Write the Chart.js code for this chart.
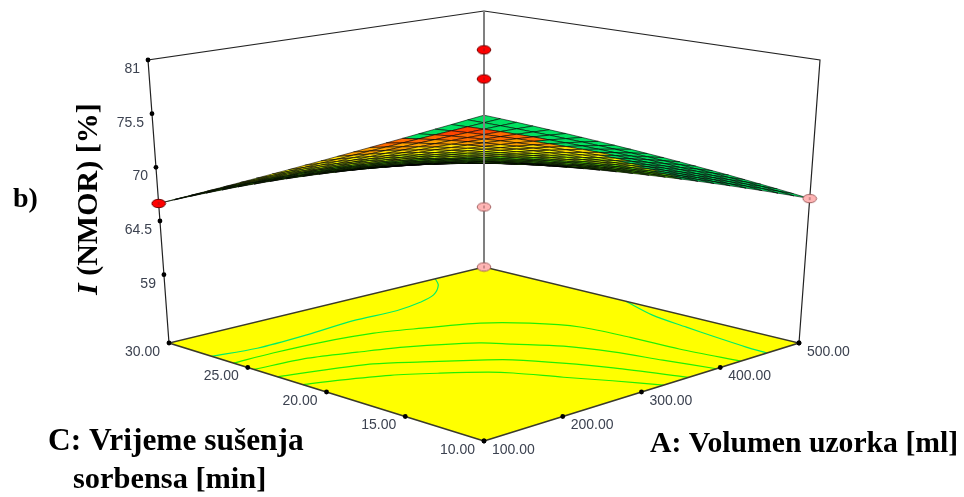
<!DOCTYPE html>
<html>
<head>
<meta charset="utf-8">
<title>I (NMOR)</title>
<style>
html, body { margin: 0; padding: 0; background: #fff; }
#wrap { width: 964px; height: 497px; }
</style>
<script src="https://cdn.jsdelivr.net/npm/chart.js@4"></script>
</head>
<body>
<div id="wrap"><canvas id="surfaceChart" width="964" height="497"></canvas></div>
<script>
// axis ticks
const volumeTicks = [100, 200, 300, 400, 500];
const timeTicks = [10, 15, 20, 25, 30];
const responseTicks = [81, 75.5, 70, 64.5, 59];
const responseFloor = 52;

// grid of the response surface, one row per drying time, one column per volume
const volumeGrid = [100, 120, 140, 160, 180, 200, 220, 240, 260, 280, 300, 320, 340, 360, 380, 400, 420, 440, 460, 480, 500];
const timeGrid = [10, 11, 12, 13, 14, 15, 16, 17, 18, 19, 20, 21, 22, 23, 24, 25, 26, 27, 28, 29, 30];
const response = [
    [78.10, 77.68, 77.24, 76.79, 76.32, 75.84, 75.34, 74.83, 74.30, 73.76, 73.20, 72.63, 72.04, 71.44, 70.82, 70.19, 69.54, 68.88, 68.20, 67.51, 66.80],
    [77.72, 77.33, 76.93, 76.51, 76.08, 75.63, 75.17, 74.69, 74.19, 73.68, 73.16, 72.61, 72.05, 71.48, 70.89, 70.28, 69.65, 69.01, 68.35, 67.67, 66.98],
    [77.32, 76.97, 76.60, 76.22, 75.82, 75.41, 74.98, 74.53, 74.07, 73.59, 73.09, 72.58, 72.05, 71.50, 70.93, 70.35, 69.75, 69.13, 68.49, 67.83, 67.15],
    [76.89, 76.57, 76.24, 75.89, 75.53, 75.15, 74.76, 74.34, 73.91, 73.47, 73.00, 72.52, 72.02, 71.50, 70.96, 70.40, 69.82, 69.23, 68.61, 67.97, 67.31],
    [76.44, 76.16, 75.86, 75.55, 75.22, 74.87, 74.51, 74.13, 73.74, 73.32, 72.89, 72.44, 71.97, 71.48, 70.97, 70.44, 69.88, 69.31, 68.72, 68.11, 67.47],
    [75.98, 75.73, 75.47, 75.19, 74.89, 74.58, 74.26, 73.91, 73.55, 73.16, 72.77, 72.34, 71.90, 71.45, 70.97, 70.47, 69.94, 69.40, 68.83, 68.24, 67.63],
    [75.48, 75.27, 75.04, 74.79, 74.53, 74.25, 73.96, 73.65, 73.32, 72.97, 72.60, 72.21, 71.81, 71.38, 70.93, 70.46, 69.97, 69.45, 68.91, 68.35, 67.77],
    [74.97, 74.79, 74.59, 74.38, 74.15, 73.91, 73.65, 73.37, 73.07, 72.76, 72.42, 72.07, 71.69, 71.30, 70.88, 70.45, 69.99, 69.50, 69.00, 68.47, 67.91],
    [74.44, 74.29, 74.12, 73.94, 73.75, 73.54, 73.31, 73.06, 72.80, 72.52, 72.22, 71.90, 71.56, 71.20, 70.82, 70.42, 69.99, 69.54, 69.07, 68.57, 68.05],
    [73.88, 73.76, 73.63, 73.48, 73.31, 73.13, 72.94, 72.73, 72.50, 72.25, 71.99, 71.70, 71.40, 71.07, 70.73, 70.36, 69.97, 69.56, 69.12, 68.66, 68.18],
    [73.30, 73.21, 73.10, 72.99, 72.85, 72.71, 72.54, 72.37, 72.17, 71.96, 71.73, 71.48, 71.21, 70.92, 70.61, 70.28, 69.93, 69.56, 69.16, 68.74, 68.30],
    [72.70, 72.64, 72.56, 72.47, 72.37, 72.25, 72.12, 71.98, 71.81, 71.64, 71.44, 71.23, 71.00, 70.75, 70.48, 70.19, 69.88, 69.55, 69.19, 68.82, 68.42],
    [72.08, 72.04, 71.99, 71.93, 71.86, 71.77, 71.67, 71.56, 71.43, 71.29, 71.13, 70.95, 70.76, 70.55, 70.32, 70.07, 69.81, 69.52, 69.21, 68.88, 68.53],
    [71.43, 71.42, 71.39, 71.36, 71.31, 71.26, 71.19, 71.11, 71.01, 70.90, 70.78, 70.64, 70.49, 70.32, 70.13, 69.93, 69.71, 69.47, 69.21, 68.93, 68.63],
    [70.76, 70.77, 70.77, 70.76, 70.74, 70.72, 70.68, 70.63, 70.56, 70.49, 70.40, 70.30, 70.19, 70.06, 69.92, 69.76, 69.59, 69.40, 69.19, 68.97, 68.73],
    [70.08, 70.11, 70.13, 70.15, 70.16, 70.16, 70.15, 70.13, 70.10, 70.06, 70.01, 69.95, 69.88, 69.79, 69.70, 69.59, 69.46, 69.33, 69.18, 69.01, 68.83],
    [69.36, 69.41, 69.45, 69.49, 69.52, 69.55, 69.56, 69.58, 69.58, 69.58, 69.56, 69.54, 69.51, 69.48, 69.43, 69.37, 69.30, 69.22, 69.13, 69.02, 68.91],
    [68.63, 68.70, 68.76, 68.81, 68.87, 68.92, 68.96, 69.01, 69.04, 69.07, 69.10, 69.12, 69.13, 69.14, 69.14, 69.14, 69.12, 69.10, 69.08, 69.04, 68.99],
    [67.88, 67.96, 68.04, 68.11, 68.19, 68.26, 68.33, 68.41, 68.48, 68.54, 68.61, 68.67, 68.73, 68.78, 68.84, 68.88, 68.93, 68.97, 69.01, 69.04, 69.07],
    [67.10, 67.19, 67.28, 67.37, 67.47, 67.57, 67.66, 67.76, 67.86, 67.97, 68.07, 68.17, 68.28, 68.38, 68.49, 68.60, 68.71, 68.81, 68.92, 69.03, 69.14],
    [66.30, 66.40, 66.50, 66.61, 66.72, 66.84, 66.96, 67.09, 67.22, 67.36, 67.50, 67.65, 67.80, 67.96, 68.12, 68.29, 68.46, 68.64, 68.82, 69.01, 69.20]
];

// contour lines on the floor, [volume, time]
const contours = [
    [[438, 30], [424, 29.1], [396, 28], [369, 27.5], [334, 27.2], [279, 27.3], [215, 27], [150, 26.9], [100, 27.3]],
    [[100, 25.9], [150, 25.9], [209, 25.7], [264, 25.2], [308, 24.3], [357, 23.1], [388, 21.5], [410, 19.4], [416, 16.5], [418, 13.5], [426, 10]],
    [[100, 24.6], [162, 24.3], [209, 23.5], [254, 22.6], [310, 20.8], [328, 19.6], [355, 17.7], [372, 15.4], [383, 12.8], [395, 10]],
    [[100, 23.1], [146, 22.5], [193, 21.7], [230, 20.4], [276, 18.6], [292, 17.8], [316, 15.8], [336, 13.6], [360, 10]],
    [[100, 21.5], [135, 20.9], [179, 19.9], [216, 18.6], [249, 17.2], [263, 16.3], [285, 14.2], [307, 12.2], [328, 10]],
    [[500, 21], [482, 18.4], [473, 15.8], [467, 13.8], [461, 11.4], [459, 10]]
];
const contourIsOuter = [true, false, false, false, false, true];

// design points: volume, time, response
const designVolume = [500, 500, 500, 500, 100, 500];
const designTime = [30, 30, 30, 30, 30, 10];
const designResponse = [76.6, 73.3, 58.8, 52, 66.3, 66.8];
const designAbove = [true, true, false, false, true, false];

// the view: where the corners of the box land on the page
const view = { cx: 484, floorDx: 315, topDx: 336, floorFront: 441, topFront: 131, floorFall: 98, topFall: 71, skew: 22 };
const volMin = 100, volMax = 500, timeMin = 10, timeMax = 30, respMax = 81;

function project(volume, time, resp) {
    const u = (volume - volMin) / (volMax - volMin);
    const v = (time - timeMin) / (timeMax - timeMin);
    const w = (resp - responseFloor) / (respMax - responseFloor);
    const floorY = view.floorFront - view.floorFall * (u + v) + view.skew * u * v;
    const topY = view.topFront - view.topFall * (u + v) + view.skew * u * v;
    return {
        x: view.cx + (view.floorDx + (view.topDx - view.floorDx) * w) * (u - v),
        y: floorY + (topY - floorY) * w
    };
}

// colour bands of the mesh
function cellColour(volume, time) {
    const u = (volume - volMin) / (volMax - volMin);
    const v = (time - timeMin) / (timeMax - timeMin);
    let greenFrom;
    if (v >= 0.92) greenFrom = 0.92 - 3.4 * (v - 0.92);
    else if (v >= 0.55) greenFrom = 0.85 + 0.19 * (v - 0.55);
    else greenFrom = 0.6 + 0.5 * v;
    if (u > greenFrom) return '#00e060';
    const q = u + 0.72 * v;
    if (q > 1.47) return '#ff4400';
    if (q > 1.36) return '#ff6a00';
    if (q > 1.24) return '#ffa000';
    if (q > 1.12) return '#ffdc00';
    if (q > 1.0) return '#ffff00';
    if (q > 0.8) return '#c8ff00';
    return '#60e800';
}

const layers = [];
function addLayer(points, colour, width, extra) {
    layers.push(Object.assign({
        data: points,
        borderColor: colour,
        borderWidth: width,
        pointRadius: 0,
        tension: 0,
        fill: false,
        order: -layers.length
    }, extra || {}));
}

// floor
const floorCorners = [
    project(volMin, timeMin, responseFloor), project(volMax, timeMin, responseFloor),
    project(volMax, timeMax, responseFloor), project(volMin, timeMax, responseFloor),
    project(volMin, timeMin, responseFloor)
];
addLayer(floorCorners, 'rgba(0,0,0,0)', 0, { fill: 'shape', backgroundColor: '#ffff00' });

contours.forEach((c, k) => {
    const pts = c.map(p => project(p[0], p[1], responseFloor));
    addLayer(pts, contourIsOuter[k] ? '#00ee66' : '#22f000', 1.2, { tension: 0.3 });
});
addLayer(floorCorners, '#3a3a2a', 1.5);

// box
addLayer([project(volMin, timeMax, responseFloor), project(volMin, timeMax, respMax), project(volMax, timeMax, respMax), project(volMax, timeMin, respMax), project(volMax, timeMin, responseFloor)], '#222', 1.2);

// surface mesh, back corner first
for (let j = timeGrid.length - 2; j >= 0; j--) {
    for (let i = volumeGrid.length - 2; i >= 0; i--) {
        const cell = [
            project(volumeGrid[i], timeGrid[j], response[j][i]),
            project(volumeGrid[i + 1], timeGrid[j], response[j][i + 1]),
            project(volumeGrid[i + 1], timeGrid[j + 1], response[j + 1][i + 1]),
            project(volumeGrid[i], timeGrid[j + 1], response[j + 1][i]),
            project(volumeGrid[i], timeGrid[j], response[j][i])
        ];
        addLayer(cell, '#000', 0.6, {
            fill: 'shape',
            backgroundColor: cellColour((volumeGrid[i] + volumeGrid[i + 1]) / 2, (timeGrid[j] + timeGrid[j + 1]) / 2)
        });
    }
}

// vertical at the back corner runs over the mesh
addLayer([project(volMax, timeMax, responseFloor), project(volMax, timeMax, respMax)], '#808080', 2);

// tick dots
const tickDots = [];
responseTicks.forEach(t => tickDots.push(project(volMin, timeMax, t)));
volumeTicks.forEach(t => tickDots.push(project(t, timeMin, responseFloor)));
timeTicks.forEach(t => tickDots.push(project(volMin, t, responseFloor)));
tickDots.push(project(volMax, timeMin, responseFloor));
addLayer(tickDots, '#000', 0, { showLine: false, pointRadius: 2.4, pointBackgroundColor: '#000', pointBorderWidth: 0 });

// design points as flat ellipses
function ellipseMark(fillColour, edge) {
    const c = document.createElement('canvas');
    c.width = 16; c.height = 11;
    const g = c.getContext('2d');
    g.beginPath();
    g.ellipse(8, 5.5, 6.8, 4.2, 0, 0, Math.PI * 2);
    g.fillStyle = fillColour;
    g.fill();
    g.lineWidth = 1;
    g.strokeStyle = edge;
    g.stroke();
    g.beginPath();
    g.moveTo(8, 4); g.lineTo(8, 7);
    g.strokeStyle = 'rgba(80,40,40,0.6)';
    g.stroke();
    return c;
}
const redMark = ellipseMark('#ff0000', '#700000');
const pinkMark = ellipseMark('#ffb4b4', '#a06060');
addLayer(designVolume.map((a, k) => project(a, designTime[k], designResponse[k])), '#000', 0, {
    showLine: false,
    pointRadius: 7,
    pointStyle: designAbove.map(up => up ? redMark : pinkMark)
});

// text of the plot, placed beside the ticks
const plotText = {
    id: 'plotText',
    afterDraw(chart) {
        const g = chart.ctx;
        const sx = chart.scales.x, sy = chart.scales.y;
        const put = (p, dx, dy, text, align) => {
            g.textAlign = align;
            g.fillText(text, sx.getPixelForValue(p.x) + dx, sy.getPixelForValue(p.y) + dy);
        };
        g.save();
        g.textBaseline = 'middle';
        g.fillStyle = '#3c4250';
        g.font = '14px "Liberation Sans"';
        responseTicks.forEach(t => put(project(volMin, timeMax, t), -8, 9, String(t), 'right'));
        volumeTicks.forEach(t => put(project(t, timeMin, responseFloor), 8, 9, t.toFixed(2), 'left'));
        timeTicks.forEach(t => put(project(volMin, t, responseFloor), -9, 9, t.toFixed(2), 'right'));

        g.fillStyle = '#000';
        g.textBaseline = 'alphabetic';
        g.textAlign = 'left';
        g.font = 'bold 28px "Liberation Serif"';
        g.fillText('b)', 13, 207);
        g.font = 'bold 29.7px "Liberation Serif"';
        g.fillText('A: Volumen uzorka [ml]', 650, 452);
        g.font = 'bold 31.4px "Liberation Serif"';
        g.fillText('C: Vrijeme sušenja', 48, 450);
        g.font = 'bold 30.4px "Liberation Serif"';
        g.fillText('sorbensa [min]', 73, 488);

        // rotated axis title, the I is italic
        g.translate(97, 295);
        g.rotate(-Math.PI / 2);
        g.font = 'italic bold 30px "Liberation Serif"';
        g.fillText('I', 0, 0);
        const w = g.measureText('I').width;
        g.font = 'bold 30px "Liberation Serif"';
        g.fillText(' (NMOR) [%]', w, 0);
        g.restore();
    }
};

new Chart(document.getElementById('surfaceChart'), {
    type: 'line',
    data: { datasets: layers },
    options: {
        responsive: false,
        animation: false,
        parsing: { xAxisKey: 'x', yAxisKey: 'y' },
        layout: { padding: 0, autoPadding: false },
        events: [],
        plugins: { legend: { display: false }, tooltip: { enabled: false } },
        scales: {
            x: { type: 'linear', min: 0, max: 964, display: false },
            y: { type: 'linear', min: 0, max: 497, reverse: true, display: false }
        }
    },
    plugins: [plotText]
});
</script>
</body>
</html>
